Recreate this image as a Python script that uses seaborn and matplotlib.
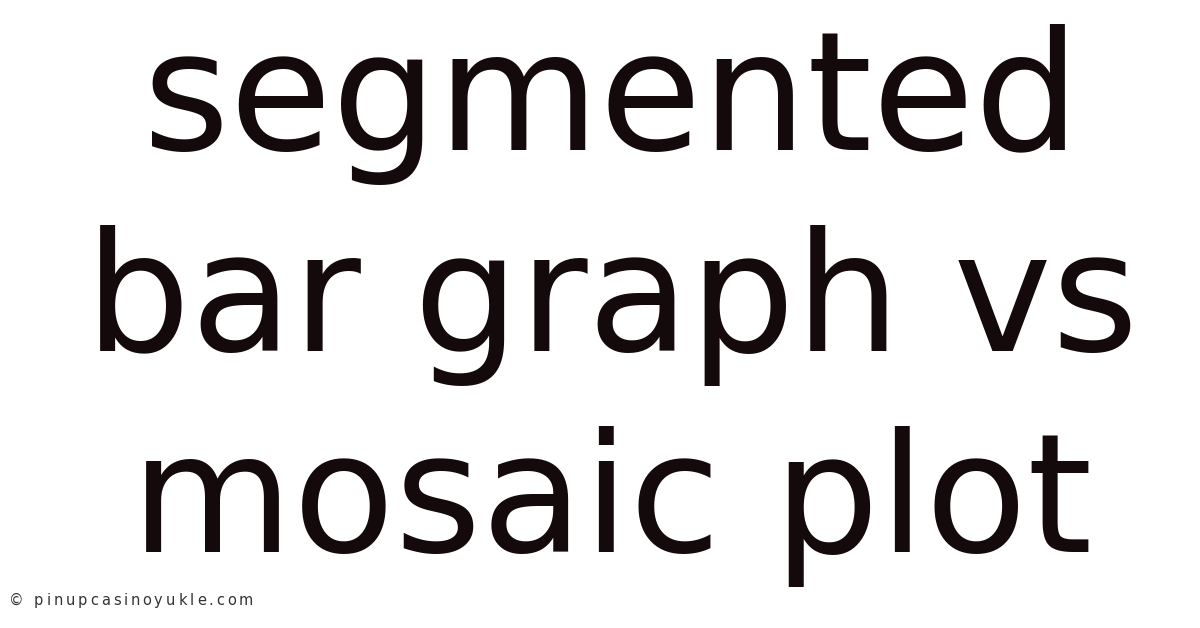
import matplotlib
matplotlib.use("Agg")
import matplotlib.pyplot as plt
import seaborn as sns

# title lines and their baselines (pixels from the top)
title_lines = ["segmented", "bar graph vs", "mosaic plot"]
baselines_px = [150, 351, 552]
watermark = "\u00a9 pinupcasinoyukle.com"

sns.set_theme(style="white")
plt.rcParams["font.family"] = ["DejaVu Sans"]

W, H = 1200, 628
fig = plt.figure(figsize=(W / 100, H / 100), dpi=100)
fig.patch.set_facecolor("white")
ax = fig.add_axes([0, 0, 1, 1])
ax.set_xlim(0, W)
ax.set_ylim(H, 0)
ax.axis("off")

for line, y in zip(title_lines, baselines_px):
    ax.text(612, y, line, ha="center", va="baseline",
            fontsize=119.7, color="#140a0b")

# watermark with wider letter spacing
renderer = fig.canvas.get_renderer()
wm_size, tracking = 10.5, 2.9


def text_width(s):
    t = ax.text(0, 0, s + "x", fontsize=wm_size)
    tx = ax.text(0, 0, "x", fontsize=wm_size)
    w = t.get_window_extent(renderer).width - tx.get_window_extent(renderer).width
    t.remove()
    tx.remove()
    return w


x0 = 9
for i, ch in enumerate(watermark):
    x = x0 + text_width(watermark[:i]) + i * tracking
    ax.text(x, 605, ch, ha="left", va="baseline",
            fontsize=wm_size, color="#333333")

fig.savefig("out.png", dpi=100, facecolor="white")
